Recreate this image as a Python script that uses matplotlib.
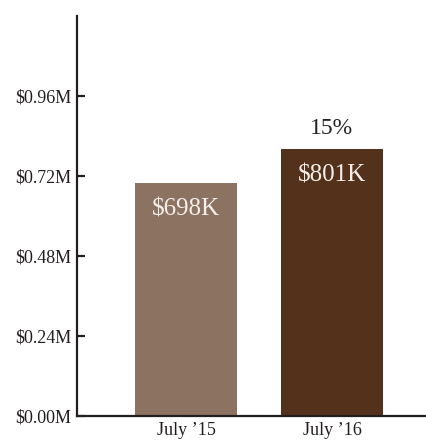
import matplotlib
matplotlib.use("Agg")
import matplotlib.pyplot as plt
from matplotlib.ticker import FuncFormatter

# data
periods = ["July \u201915", "July \u201916"]
revenue = [698000, 801000]
bar_labels = ["$698K", "$801K"]
growth_label = "15%"
bar_colors = ["#8c7261", "#54311a"]
yticks = [0, 240000, 480000, 720000, 960000]

plt.rcParams['font.family'] = ['Liberation Serif', 'DejaVu Serif']

fig = plt.figure(figsize=(4.27, 4.44), dpi=100)
ax = fig.add_axes([0.1803, 0.0631, 0.8197, 0.9009])

x = list(range(len(periods)))
bars = ax.bar(x, revenue, width=0.70, color=bar_colors)

for b, lab in zip(bars, bar_labels):
    ax.annotate(lab, (b.get_x() + b.get_width() / 2, b.get_height()),
                xytext=(0, -11), textcoords="offset points",
                ha="center", va="top", fontsize=18, color="#f3eee9")

# growth label above last bar
last = bars[-1]
ax.annotate(growth_label, (last.get_x() + last.get_width() / 2, last.get_height()),
            xytext=(0, 7), textcoords="offset points",
            ha="center", va="bottom", fontsize=17, color="#222222")

ax.set_xlim(-0.747, 1.651)
ax.set_ylim(0, 1200000)
ax.set_xticks(x)
ax.set_xticklabels(periods)
ax.set_yticks(yticks)
ax.yaxis.set_major_formatter(FuncFormatter(lambda v, p: "${:.2f}M".format(v / 1e6)))

for s in ["top", "right"]:
    ax.spines[s].set_visible(False)
for s in ["left", "bottom"]:
    ax.spines[s].set_linewidth(1.6)
    ax.spines[s].set_color("#231f20")

ax.tick_params(axis="y", direction="in", length=6, width=1.6, color="#231f20",
               labelsize=13, labelcolor="#231f20", pad=4)
ax.tick_params(axis="x", length=0, labelsize=13, labelcolor="#231f20", pad=4)

fig.savefig("out.png", dpi=100)
